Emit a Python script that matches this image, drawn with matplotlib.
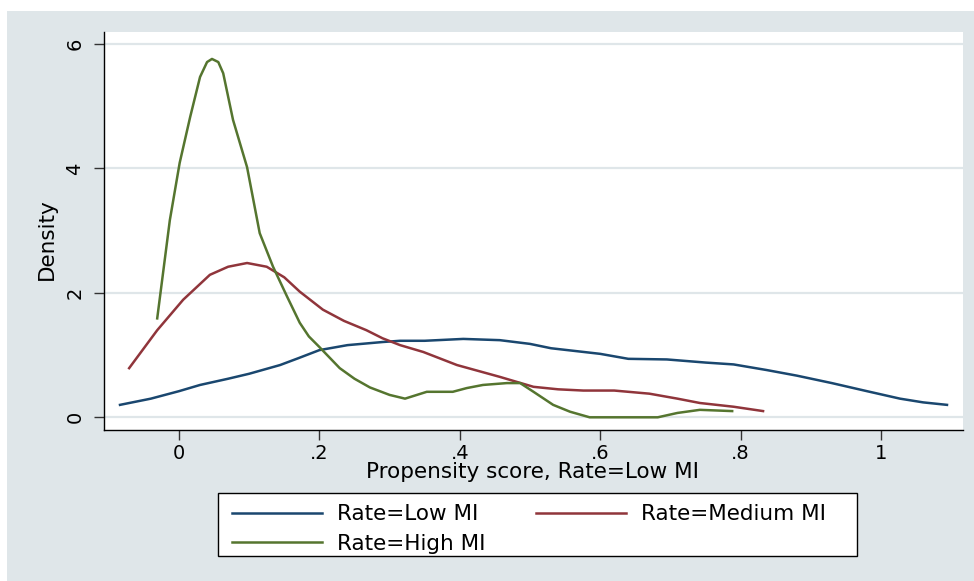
import matplotlib.pyplot as plt
from matplotlib.patches import Rectangle

# kernel density of propensity score
low_x = [-0.084, -0.04, 0.0, 0.03, 0.07, 0.1, 0.144, 0.17, 0.2, 0.24, 0.29, 0.315, 0.35,
         0.405, 0.457, 0.5, 0.53, 0.6, 0.64, 0.695, 0.75, 0.79, 0.837, 0.88, 0.93, 0.98,
         1.027, 1.06, 1.094]
low_y = [0.2, 0.3, 0.42, 0.52, 0.62, 0.7, 0.84, 0.95, 1.08, 1.16, 1.21, 1.23, 1.23,
         1.26, 1.24, 1.18, 1.11, 1.02, 0.94, 0.93, 0.88, 0.85, 0.76, 0.67, 0.55, 0.42,
         0.3, 0.24, 0.2]

med_x = [-0.071, -0.031, 0.006, 0.044, 0.07, 0.097, 0.125, 0.15, 0.172, 0.205, 0.235,
         0.267, 0.29, 0.315, 0.348, 0.396, 0.457, 0.505, 0.54, 0.576, 0.62, 0.67, 0.71,
         0.742, 0.79, 0.832]
med_y = [0.79, 1.4, 1.89, 2.29, 2.42, 2.48, 2.42, 2.25, 2.02, 1.73, 1.55, 1.4, 1.27,
         1.16, 1.05, 0.84, 0.65, 0.49, 0.45, 0.43, 0.43, 0.38, 0.3, 0.23, 0.17, 0.1]

high_x = [-0.031, -0.013, 0.001, 0.016, 0.03, 0.04, 0.047, 0.056, 0.063, 0.077, 0.097,
          0.115, 0.134, 0.154, 0.172, 0.185, 0.2, 0.229, 0.25, 0.272, 0.3, 0.322, 0.353,
          0.39, 0.41, 0.433, 0.467, 0.486, 0.505, 0.533, 0.557, 0.585, 0.682, 0.71, 0.742,
          0.788]
high_y = [1.59, 3.17, 4.09, 4.83, 5.47, 5.71, 5.76, 5.71, 5.53, 4.78, 4.02, 2.96, 2.42,
          1.94, 1.52, 1.3, 1.13, 0.79, 0.62, 0.48, 0.36, 0.3, 0.41, 0.41, 0.47, 0.52,
          0.55, 0.55, 0.41, 0.2, 0.09, 0.0, 0.0, 0.07, 0.12, 0.1]

labels = ['Rate=Low MI', 'Rate=Medium MI', 'Rate=High MI']
colors = ['#1a476f', '#90353b', '#55752f']
xticks = [0, 0.2, 0.4, 0.6, 0.8, 1]
xticklabels = ['0', '.2', '.4', '.6', '.8', '1']
yticks = [0, 2, 4, 6]

W, H = 974, 581
bg = '#dfe6e9'
fs = 15.5
tfs = 14

def fx(px):
    return px / W

def fy(py):
    return 1 - py / H

fig = plt.figure(figsize=(W / 100, H / 100), dpi=100, facecolor='white')
fig.patches.append(Rectangle((fx(7), 0), 1 - fx(7), fy(11), transform=fig.transFigure,
                             facecolor=bg, edgecolor='none', zorder=-10))

ax = fig.add_axes([fx(104), fy(430), fx(963) - fx(104), fy(32) - fy(430)])
ax.set_facecolor('white')
ax.set_xlim(-0.1068, 1.1168)
ax.set_ylim(-0.204, 6.193)

h1, = ax.plot(low_x, low_y, color=colors[0], lw=1.8)
h2, = ax.plot(med_x, med_y, color=colors[1], lw=1.8)
h3, = ax.plot(high_x, high_y, color=colors[2], lw=1.8)

ax.set_xticks(xticks)
ax.set_xticklabels(xticklabels)
ax.set_yticks(yticks)
ax.set_yticklabels([str(v) for v in yticks], rotation=90, va='center')
ax.tick_params(axis='both', length=7, width=1, color='#333333', labelsize=tfs)
ax.tick_params(axis='x', pad=3)
ax.tick_params(axis='y', pad=7)
ax.grid(axis='y', color=bg, lw=1.6)
ax.set_axisbelow(True)
for s in ['top', 'right']:
    ax.spines[s].set_visible(False)
for s in ['left', 'bottom']:
    ax.spines[s].set_color('black')
    ax.spines[s].set_linewidth(1)

fig.text(fx(533), fy(478), 'Propensity score, Rate=Low MI', ha='center', va='baseline',
         fontsize=fs)
fig.text(fx(47), fy(239), 'Density', rotation=90, ha='center', va='center', fontsize=fs)

# legend frame drawn separately so the box matches the original
fig.patches.append(Rectangle((fx(218), fy(556)), fx(857) - fx(218), fy(493) - fy(556),
                             transform=fig.transFigure, facecolor='white',
                             edgecolor='black', lw=1, zorder=1))
# column-wise fill: Low, High in the first column, Medium in the second
fig.legend([h1, h3, h2], [labels[0], labels[2], labels[1]], ncol=2, loc='center left',
           bbox_to_anchor=(fx(232), fy(529)), frameon=False, fontsize=fs,
           handlelength=4.2, handletextpad=0.7, columnspacing=2.3,
           labelspacing=0.42, borderpad=0, borderaxespad=0)

plt.savefig('out.png', dpi=100, facecolor='white')
